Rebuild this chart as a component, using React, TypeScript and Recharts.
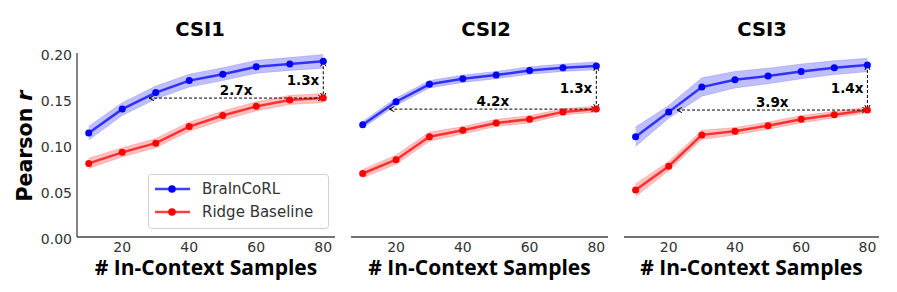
import React from "react";
import {
  ComposedChart,
  Line,
  Area,
  XAxis,
  YAxis,
  ReferenceLine,
  Legend,
  Label,
} from "recharts";

// in-context sample counts (x)
const samples = [10, 20, 30, 40, 50, 60, 70, 80];
const xTicks = [20, 40, 60, 80];
const yTicks = [0, 0.05, 0.1, 0.15, 0.2];

const titles = ["CSI1", "CSI2", "CSI3"];

// Pearson r, mean and band half-width
const csi1Brain = [0.113, 0.139, 0.157, 0.17, 0.177, 0.185, 0.188, 0.191];
const csi1BrainErr = [0.0075, 0.007, 0.007, 0.007, 0.007, 0.007, 0.007, 0.0075];
const csi1Ridge = [0.08, 0.092, 0.102, 0.12, 0.132, 0.142, 0.149, 0.151];
const csi1RidgeErr = [0.0055, 0.005, 0.005, 0.005, 0.005, 0.005, 0.005, 0.005];

const csi2Brain = [0.122, 0.147, 0.166, 0.172, 0.176, 0.181, 0.184, 0.186];
const csi2BrainErr = [0.0035, 0.004, 0.004, 0.004, 0.004, 0.004, 0.004, 0.0043];
const csi2Ridge = [0.069, 0.084, 0.109, 0.116, 0.124, 0.128, 0.136, 0.139];
const csi2RidgeErr = [0.0045, 0.005, 0.005, 0.004, 0.004, 0.004, 0.0035, 0.0033];

const csi3Brain = [0.109, 0.136, 0.163, 0.171, 0.175, 0.18, 0.184, 0.187];
const csi3BrainErr = [0.0105, 0.007, 0.01, 0.009, 0.0085, 0.008, 0.0075, 0.0073];
const csi3Ridge = [0.051, 0.077, 0.111, 0.115, 0.121, 0.128, 0.133, 0.138];
const csi3RidgeErr = [0.007, 0.005, 0.005, 0.004, 0.004, 0.004, 0.0035, 0.0033];

// annotations: where BraInCoRL reaches ridge's final score, and the labels
const matchX = [28, 18, 22.5];
const sampleGain = ["2.7x", "4.2x", "3.9x"];
const scoreGain = ["1.3x", "1.3x", "1.4x"];

const seriesNames = ["BraInCoRL", "Ridge Baseline"];

const BLUE = "#0000ff";
const RED = "#ff0000";
const AXIS = "#444";
const TICK_FONT = "DejaVu Sans";
const BOLD_FONT = "Open Sans";

const panelData = [
  [csi1Brain, csi1BrainErr, csi1Ridge, csi1RidgeErr],
  [csi2Brain, csi2BrainErr, csi2Ridge, csi2RidgeErr],
  [csi3Brain, csi3BrainErr, csi3Ridge, csi3RidgeErr],
];

// chart boxes on the page
const layout = [
  { left: 0, width: 345, marginLeft: 37, yWidth: 40, ticks: true, titleX: 200 },
  { left: 341, width: 277, marginLeft: 10, yWidth: 0, ticks: false, titleX: 486 },
  { left: 614, width: 275, marginLeft: 10, yWidth: 0, ticks: false, titleX: 762 },
];

function buildRows(i: number) {
  const [b, be, r, re] = panelData[i];
  return samples.map((x, k) => ({
    x,
    brain: b[k],
    brainBand: [b[k] - be[k], b[k] + be[k]],
    ridge: r[k],
    ridgeBand: [r[k] - re[k], r[k] + re[k]],
  }));
}

/** dashed <-> arrow with its label */
function DoubleArrow(props: any) {
  const { x1, y1, x2, y2, text, vertical } = props;
  if (x1 == null || y1 == null) return null;
  const len = Math.hypot(x2 - x1, y2 - y1) || 1;
  const ux = (x2 - x1) / len;
  const uy = (y2 - y1) / len;
  const px = -uy;
  const py = ux;
  const hl = 5;
  const hw = 2.6;
  const head = (x: number, y: number, d: number) =>
    `${x + d * ux * hl + px * hw},${y + d * uy * hl + py * hw} ${x},${y} ${
      x + d * ux * hl - px * hw
    },${y + d * uy * hl - py * hw}`;

  return (
    <g>
      <line
        x1={x1}
        y1={y1}
        x2={x2}
        y2={y2}
        stroke="#000"
        strokeWidth={1}
        strokeDasharray="3 2"
      />
      <polyline points={head(x1, y1, 1)} fill="none" stroke="#000" strokeWidth={1} />
      <polyline points={head(x2, y2, -1)} fill="none" stroke="#000" strokeWidth={1} />
      {vertical ? (
        <text
          x={x1 - 4}
          y={(y1 + y2) / 2 + 5}
          textAnchor="end"
          fontFamily={TICK_FONT}
          fontWeight={700}
          fontSize={13.5}
          fill="#000"
        >
          {text}
        </text>
      ) : (
        <text
          x={(x1 + x2) / 2}
          y={y1 - 3.5}
          textAnchor="middle"
          fontFamily={TICK_FONT}
          fontWeight={700}
          fontSize={13.5}
          fill="#000"
        >
          {text}
        </text>
      )}
    </g>
  );
}

function LegendBox(props: any) {
  const items = (props.payload || []).filter((p: any) => p.type !== "none");
  return (
    <svg width={181} height={55} style={{ display: "block" }}>
      <rect
        x={0.5}
        y={0.5}
        width={180}
        height={54}
        rx={3}
        fill="rgba(255,255,255,0.8)"
        stroke="#d0d0d0"
      />
      {items.map((it: any, i: number) => {
        const y = 15 + i * 23;
        return (
          <g key={it.value}>
            <line x1={7} y1={y} x2={42} y2={y} stroke={it.color} strokeWidth={2.5} opacity={0.75} />
            <circle cx={24} cy={y} r={3.8} fill={it.color} />
            <text x={54} y={y + 5} fontFamily={TICK_FONT} fontSize={15} fill="#333">
              {it.value}
            </text>
          </g>
        );
      })}
    </svg>
  );
}

function Panel({ i }: { i: number }) {
  const cfg = layout[i];
  const rows = buildRows(i);
  const [b, , r] = panelData[i];
  const b80 = b[b.length - 1];
  const r80 = r[r.length - 1];
  const tickStyle = { fontSize: 14, fontFamily: TICK_FONT, fill: "#333" };

  return (
    <div style={{ position: "absolute", left: cfg.left, top: 0 }}>
      <ComposedChart
        width={cfg.width}
        height={292}
        data={rows}
        margin={{ top: 53, right: 10, bottom: 0, left: cfg.marginLeft }}
      >
        <XAxis
          dataKey="x"
          type="number"
          domain={[6.5, 83.5]}
          ticks={xTicks}
          allowDataOverflow
          tickLine={false}
          tickSize={0}
          tickMargin={5}
          height={55}
          axisLine={{ stroke: AXIS, strokeWidth: 1.3 }}
          tick={tickStyle}
        >
          <Label
            value="# In-Context Samples"
            position="insideBottom"
            offset={17}
            fill="#000"
            fontSize={21}
            fontWeight={700}
            fontFamily={BOLD_FONT}
          />
        </XAxis>
        <YAxis
          type="number"
          domain={[0, 0.2]}
          ticks={yTicks}
          allowDataOverflow
          width={cfg.yWidth}
          tickLine={false}
          tickSize={0}
          tickMargin={5}
          axisLine={{ stroke: AXIS, strokeWidth: 1.3 }}
          tick={cfg.ticks ? { ...tickStyle, dy: 2 } : false}
          tickFormatter={(v: number) => v.toFixed(2)}
        />
        <Area
          dataKey="brainBand"
          type="linear"
          fill={BLUE}
          fillOpacity={0.25}
          stroke={BLUE}
          strokeOpacity={0.15}
          legendType="none"
          isAnimationActive={false}
        />
        <Area
          dataKey="ridgeBand"
          type="linear"
          fill={RED}
          fillOpacity={0.25}
          stroke={RED}
          strokeOpacity={0.15}
          legendType="none"
          isAnimationActive={false}
        />
        <Line
          dataKey="brain"
          name={seriesNames[0]}
          type="linear"
          stroke={BLUE}
          strokeOpacity={0.75}
          strokeWidth={2.5}
          dot={{ r: 3.5, fill: BLUE, stroke: BLUE, strokeWidth: 0, fillOpacity: 1 }}
          activeDot={false}
          isAnimationActive={false}
        />
        <Line
          dataKey="ridge"
          name={seriesNames[1]}
          type="linear"
          stroke={RED}
          strokeOpacity={0.75}
          strokeWidth={2.5}
          dot={{ r: 3.5, fill: RED, stroke: RED, strokeWidth: 0, fillOpacity: 1 }}
          activeDot={false}
          isAnimationActive={false}
        />
        <ReferenceLine
          segment={[
            { x: matchX[i], y: r80 },
            { x: 80, y: r80 },
          ]}
          shape={(p: any) => <DoubleArrow {...p} text={sampleGain[i]} />}
        />
        <ReferenceLine
          segment={[
            { x: 80, y: b80 },
            { x: 80, y: r80 },
          ]}
          shape={(p: any) => <DoubleArrow {...p} text={scoreGain[i]} vertical />}
        />
        {i === 0 && (
          <Legend
            layout="vertical"
            align="center"
            verticalAlign="middle"
            content={<LegendBox />}
            wrapperStyle={{ left: 148, top: 173.5, width: 181, height: 55 }}
          />
        )}
      </ComposedChart>
    </div>
  );
}

export default function App() {
  return (
    <div
      style={{
        position: "absolute",
        left: 0,
        top: 0,
        width: 897,
        height: 292,
        background: "#fff",
        overflow: "hidden",
      }}
    >
      {titles.map((_, i) => (
        <Panel key={i} i={i} />
      ))}
      <svg
        width={897}
        height={292}
        style={{ position: "absolute", left: 0, top: 0, pointerEvents: "none" }}
      >
        {titles.map((t, i) => (
          <text
            key={t}
            x={layout[i].titleX}
            y={35.5}
            textAnchor="middle"
            fontFamily={TICK_FONT}
            fontWeight={700}
            fontSize={19.5}
            fill="#000"
          >
            {t}
          </text>
        ))}
        <text
          transform="translate(32,146) rotate(-90)"
          textAnchor="middle"
          fontFamily={TICK_FONT}
          fontWeight={700}
          fontSize={20.5}
          fill="#000"
        >
          Pearson <tspan fontStyle="italic">r</tspan>
        </text>
      </svg>
    </div>
  );
}
